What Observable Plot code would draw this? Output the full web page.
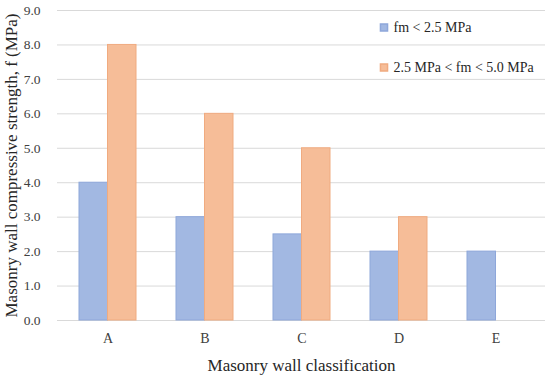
<!DOCTYPE html>
<html>
<head>
<meta charset="utf-8">
<script src="https://cdn.jsdelivr.net/npm/d3@7"></script>
<script src="https://cdn.jsdelivr.net/npm/@observablehq/plot@0.6"></script>
<style>
  html, body { margin: 0; padding: 0; background: #fff; }
  #chart { width: 550px; height: 377px; }
</style>
</head>
<body>
<div id="chart"></div>
<script>
const categories = ["A", "B", "C", "D", "E"];
const seriesNames = ["fm < 2.5 MPa", "2.5 MPa < fm < 5.0 MPa"];
const lowValues = [4.0, 3.0, 2.5, 2.0, 2.0];
const highValues = [8.0, 6.0, 5.0, 3.0, null];
const yTicks = [0, 1, 2, 3, 4, 5, 6, 7, 8, 9];
const seriesFill = ["#a2b8e2", "#f6bd98"];
const seriesStroke = ["#8ea7da", "#f0ab80"];

const W = 550, H = 377, mL = 57, mR = 5, mT = 10, mB = 57;
const padInner = 0.416;
const step = (W - mL - mR) / categories.length;
const halfBand = step * (1 - padInner) / 2;

const lowData = categories.map((c, i) => ({category: c, value: lowValues[i]})).filter(d => d.value != null);
const highData = categories.map((c, i) => ({category: c, value: highValues[i]})).filter(d => d.value != null);

const font = "'Liberation Serif', 'Times New Roman', serif";

const legendMarks = seriesNames.flatMap((s, i) => [
  Plot.dot([s], {frameAnchor: "top-right", dx: -161.5, dy: 17 + i * 40, symbol: "square", r: 4, fill: seriesFill[i], stroke: seriesStroke[i]}),
  Plot.text([s], {frameAnchor: "top-right", dx: -152, dy: 17 + i * 40, textAnchor: "start", lineAnchor: "middle", fontSize: 14, fontFamily: font, fill: "#262626"})
]);

const chart = Plot.plot({
  width: W,
  height: H,
  marginLeft: mL,
  marginRight: mR,
  marginTop: mT,
  marginBottom: mB,
  style: {fontFamily: font, fontSize: "13px", color: "#404040", background: "#fff"},
  x: {domain: categories, paddingInner: padInner, paddingOuter: padInner / 2, label: null},
  y: {domain: [0, 9], label: null},
  marks: [
    Plot.ruleY(yTicks, {stroke: "#d9d9d9", strokeWidth: 1}),
    Plot.barY(lowData, {x: "category", y: "value", fill: seriesFill[0], stroke: seriesStroke[0], strokeWidth: 1, insetRight: halfBand}),
    Plot.barY(highData, {x: "category", y: "value", fill: seriesFill[1], stroke: seriesStroke[1], strokeWidth: 1, insetLeft: halfBand}),
    Plot.axisY({ticks: yTicks, tickSize: 0, tickPadding: 17, tickFormat: d3.format(".1f"), fontSize: 13.5, fontFamily: font, fill: "#404040", label: null}),
    Plot.axisX({tickSize: 0, tickPadding: 13, fontSize: 14, fontFamily: font, fill: "#404040", label: null}),
    Plot.text(["Masonry wall classification"], {frameAnchor: "bottom", dy: 45, lineAnchor: "middle", fontSize: 17, fontFamily: font, fill: "#262626"}),
    Plot.text(["Masonry wall compressive strength, f (MPa)"], {frameAnchor: "left", dx: -46, rotate: -90, textAnchor: "middle", lineAnchor: "middle", fontSize: 17, fontFamily: font, fill: "#262626"}),
    ...legendMarks
  ]
});
document.getElementById("chart").appendChild(chart);
</script>
</body>
</html>
